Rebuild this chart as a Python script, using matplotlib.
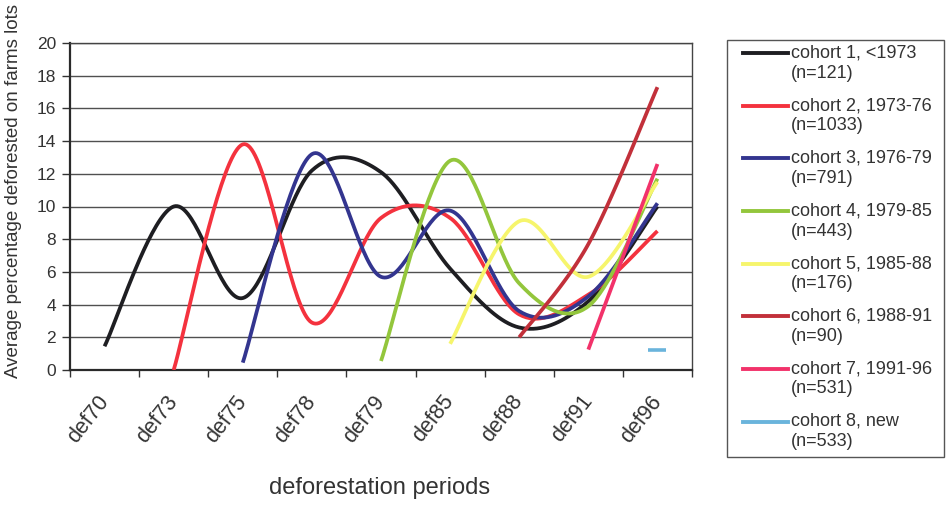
import numpy as np
import matplotlib
matplotlib.use("Agg")
import matplotlib.pyplot as plt
from matplotlib.lines import Line2D
from matplotlib.patches import Rectangle

nan = np.nan

periods = ["def70", "def73", "def75", "def78", "def79", "def85", "def88", "def91", "def96"]

cohort1 = [1.45, 10.0, 4.4, 12.2, 12.1, 6.2, 2.6, 4.2, 10.0]
cohort2 = [nan, 0.0, 13.8, 2.9, 9.3, 9.3, 3.4, 4.6, 8.5]
cohort3 = [nan, nan, 0.45, 13.2, 5.7, 9.75, 3.6, 4.5, 10.2]
cohort4 = [nan, nan, nan, nan, 0.55, 12.8, 5.3, 3.9, 11.7]
cohort5 = [nan, nan, nan, nan, nan, 1.6, 9.1, 5.7, 11.5]
cohort6 = [nan, nan, nan, nan, nan, nan, 2.0, 7.7, 17.3]
cohort7 = [nan, nan, nan, nan, nan, nan, nan, 1.25, 12.6]
cohort8 = [nan, nan, nan, nan, nan, nan, nan, nan, 1.2]

series = [cohort1, cohort2, cohort3, cohort4, cohort5, cohort6, cohort7, cohort8]
labels = [
    ("cohort 1, <1973", "(n=121)"),
    ("cohort 2, 1973-76", "(n=1033)"),
    ("cohort 3, 1976-79", "(n=791)"),
    ("cohort 4, 1979-85", "(n=443)"),
    ("cohort 5, 1985-88", "(n=176)"),
    ("cohort 6, 1988-91", "(n=90)"),
    ("cohort 7, 1991-96", "(n=531)"),
    ("cohort 8, new", "(n=533)"),
]
colors = ["#1e1e22", "#f4323e", "#33358f", "#93c63c", "#f6f56c",
          "#c2303a", "#f2326a", "#6ab4dc"]

plt.rcParams["font.family"] = ["Liberation Sans", "DejaVu Sans"]
TXT = "#333333"

W, H = 946, 507
fig = plt.figure(figsize=(W / 100, H / 100), dpi=100)
fig.patch.set_facecolor("white")

ax_l, ax_r, ax_t, ax_b = 70, 692, 43, 370
ax = fig.add_axes([ax_l / W, 1 - ax_b / H, (ax_r - ax_l) / W, (ax_b - ax_t) / H])

# pixel scale of one category / one unit, used so the smoothing behaves like
# a spline drawn in screen space
sx = (ax_r - ax_l) / len(periods)
sy = (ax_b - ax_t) / 20.0


def smooth(xs, ys, n=40):
    """Bezier smoothing through the points (tangent = neighbour difference / 6)."""
    P = np.column_stack([np.asarray(xs) * sx, np.asarray(ys) * sy])
    if len(P) == 1:
        return xs, ys
    out = []
    m = len(P)
    for i in range(m - 1):
        p0 = P[i - 1] if i > 0 else P[i]
        p1, p2 = P[i], P[i + 1]
        p3 = P[i + 2] if i + 2 < m else P[i + 1]
        c1 = p1 + (p2 - p0) / 6.0
        c2 = p2 - (p3 - p1) / 6.0
        t = np.linspace(0, 1, n)[:, None]
        seg = ((1 - t) ** 3) * p1 + 3 * ((1 - t) ** 2) * t * c1 \
            + 3 * (1 - t) * t ** 2 * c2 + t ** 3 * p2
        out.append(seg if i == 0 else seg[1:])
    out = np.vstack(out)
    return out[:, 0] / sx, out[:, 1] / sy


xidx = np.arange(len(periods))
for vals, col in zip(series, colors):
    v = np.asarray(vals, dtype=float)
    ok = ~np.isnan(v)
    xs, ys = xidx[ok], v[ok]
    if len(xs) == 1:
        ax.plot(xs, ys, marker="_", markersize=13, mew=2.6, color=col,
                linestyle="none", zorder=3)
    else:
        px, py = smooth(xs, ys)
        ax.plot(px, py, color=col, lw=2.7, solid_capstyle="butt", zorder=3)

ax.set_xlim(-0.5, len(periods) - 0.5)
ax.set_ylim(0, 20)
ax.set_yticks(np.arange(0, 21, 2))
ax.yaxis.grid(True, color="#505050", lw=1.0)
ax.set_axisbelow(True)

ax.set_xticks(xidx)
ax.set_xticklabels(periods, rotation=52, ha="right", va="center",
                   rotation_mode="anchor", fontsize=15.5, color=TXT)
ax.set_xticks(np.arange(-0.5, len(periods)), minor=True)
ax.tick_params(axis="x", which="major", length=0, pad=20)
ax.tick_params(axis="x", which="minor", length=5, width=1, direction="out", color="#333")
ax.tick_params(axis="y", length=6, width=1, direction="out", color="#333",
               labelsize=12.5, labelcolor=TXT, pad=4)

for side in ["left", "bottom"]:
    ax.spines[side].set_linewidth(1.6)
    ax.spines[side].set_color("#2a2a2a")
for side in ["top", "right"]:
    ax.spines[side].set_linewidth(1.0)
    ax.spines[side].set_color("#444444")

fig.text(380 / W, 1 - 488 / H, "deforestation periods", fontsize=17,
         color=TXT, ha="center", va="center")
fig.text(14 / W, 1 - 191 / H, "Average percentage deforested on farms lots",
         fontsize=13.5, color=TXT, rotation=90, ha="center", va="center")

# legend box
lx0, ly0, lx1, ly1 = 727, 40, 944, 457
fig.add_artist(Rectangle((lx0 / W, 1 - ly1 / H), (lx1 - lx0) / W, (ly1 - ly0) / H,
                         transform=fig.transFigure, fill=False,
                         edgecolor="#555555", lw=1.0))
row0, step = 53.3, 52.6
for i, ((l1, l2), col) in enumerate(zip(labels, colors)):
    yy = row0 + i * step
    fig.add_artist(Line2D([743 / W, 788 / W], [1 - yy / H, 1 - yy / H],
                          transform=fig.transFigure, color=col, lw=2.8))
    fig.text(791 / W, 1 - yy / H, l1, fontsize=13, color=TXT, va="center", ha="left")
    fig.text(791 / W, 1 - (yy + 20) / H, l2, fontsize=13, color=TXT, va="center", ha="left")

fig.savefig("out.png", dpi=100, facecolor="white")
